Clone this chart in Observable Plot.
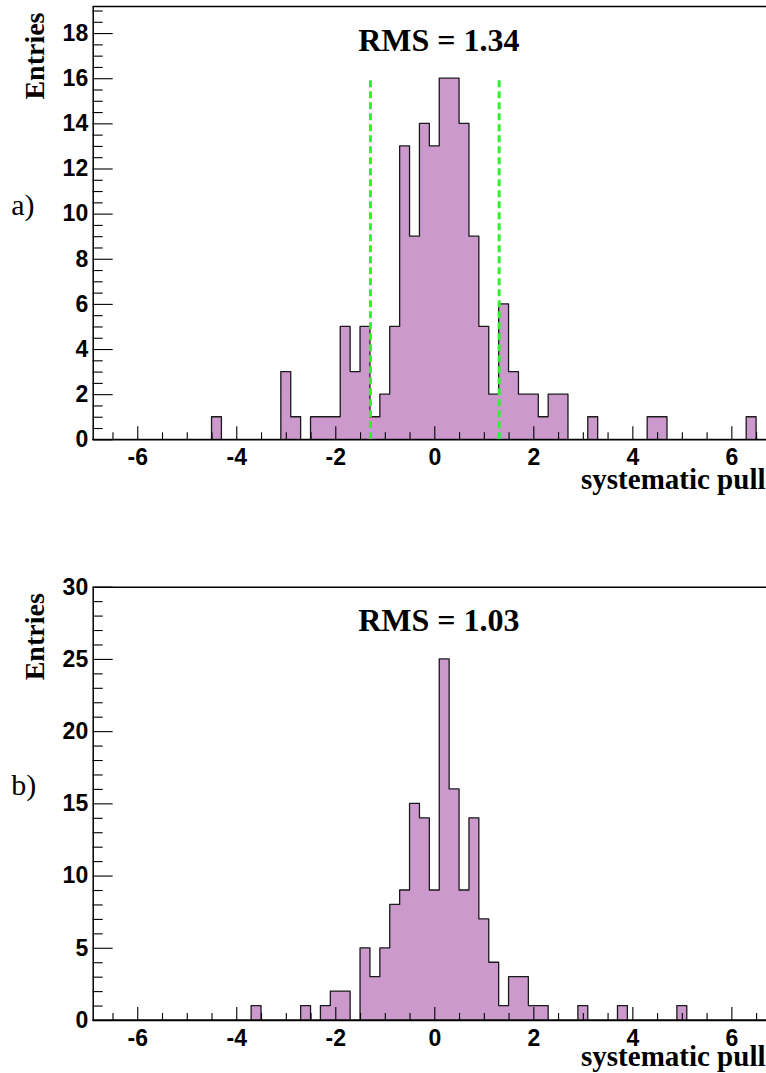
<!DOCTYPE html>
<html>
<head>
<meta charset="utf-8">
<script src="https://cdn.jsdelivr.net/npm/d3@7"></script>
<script src="https://cdn.jsdelivr.net/npm/@observablehq/plot@0.6"></script>
<style>
  html, body { margin: 0; padding: 0; background: #fff; }
  #wrap { width: 766px; height: 1073px; overflow: hidden; }
  #wrap svg { display: block; }
</style>
</head>
<body>
<div id="wrap"></div>
<script>
// ---- data (bin centers of non-empty bins, bin width 0.2) ----
const topCenters = [-4.4, -3.0, -2.8, -2.4, -2.2, -2.0, -1.8, -1.6, -1.4, -1.2, -1.0, -0.8, -0.6, -0.4, -0.2, 0.0, 0.2, 0.4, 0.6, 0.8, 1.0, 1.2, 1.4, 1.6, 1.8, 2.0, 2.2, 2.4, 2.6, 3.2, 4.4, 4.6, 6.4];
const topCounts  = [1, 3, 1, 1, 1, 1, 5, 3, 5, 1, 2, 5, 13, 9, 14, 13, 16, 16, 14, 9, 5, 2, 6, 3, 2, 2, 1, 2, 2, 1, 1, 1, 1];
const bottomCenters = [-3.6, -2.6, -2.2, -2.0, -1.8, -1.4, -1.2, -1.0, -0.8, -0.6, -0.4, -0.2, 0.0, 0.2, 0.4, 0.6, 0.8, 1.0, 1.2, 1.4, 1.6, 1.8, 2.0, 2.2, 3.0, 3.8, 5.0];
const bottomCounts  = [1, 1, 1, 2, 2, 5, 3, 5, 8, 9, 15, 14, 9, 25, 16, 9, 14, 7, 4, 1, 3, 3, 1, 1, 1, 1, 1];
const topRMS = "1.34";
const bottomRMS = "1.03";
const topLines = [-1.3, 1.3];      // green dashed lines
const topLineHeight = 16;
const xTickLabels = [-6, -4, -2, 0, 2, 4, 6];
const topYTickLabels = [0, 2, 4, 6, 8, 10, 12, 14, 16, 18];
const bottomYTickLabels = [0, 5, 10, 15, 20, 25, 30];
const xTitle = "systematic pull";
const yTitle = "Entries";

const binWidth = 0.2;
const histRange = [-6.9, 6.9];

function fmt(d) { return d < 0 ? "-" + (-d) : String(d); }

function panel(cfg) {
  const W = 766, mLeft = 92.7;
  const {centers, counts, yMax, yMinorStep, yMajor, rms, tag, tagDy, titleDy, lines, lineTop, H, mTop, mBottom} = cfg;
  const xDom = [histRange[0], 6.7];
  const pxX = (W - mLeft) / (xDom[1] - xDom[0]);
  const pxY = (H - mTop - mBottom) / yMax;

  const lookup = new Map(centers.map((c, i) => [Math.round(c * 10), counts[i]]));
  const nBins = Math.round((histRange[1] - histRange[0]) / binWidth);
  const pts = [];
  for (let i = 0; i < nBins; i++) {
    const lo = histRange[0] + binWidth * i;
    const key = Math.round((lo + binWidth / 2) * 10);
    pts.push({x: lo, y: lookup.get(key) ?? 0});
  }
  pts.push({x: histRange[1], y: 0});

  const xMinor = d3.range(-13, 14).map(k => k * 0.5).filter(v => !xTickLabels.includes(v) && v > xDom[0] && v < xDom[1]);
  const yMinor = d3.range(0, yMax + 1e-9, yMinorStep).filter(v => !yMajor.includes(v) && v > 0);

  const font = "'Liberation Sans', Arial, Helvetica, sans-serif";
  const serif = "'Liberation Serif', 'Times New Roman', Times, serif";

  const marks = [
    Plot.areaY(pts, {x: "x", y: "y", curve: "step-after", fill: "#cc99cc", stroke: "#1a1a1a", strokeWidth: 1.3})
  ];
  if (lines) {
    marks.push(Plot.ruleX(lines, {y1: 0, y2: lineTop, stroke: "#2ef22e", strokeWidth: 3, strokeDasharray: "7,4"}));
  }
  marks.push(
    Plot.ruleY([0, yMax], {stroke: "#000", strokeWidth: 1.5}),
    Plot.ruleX([xDom[0]], {stroke: "#000", strokeWidth: 1.5}),
    // y ticks (inside)
    Plot.ruleY(yMajor, {x1: xDom[0], x2: xDom[0] + 20 / pxX, stroke: "#000", strokeWidth: 1.1}),
    Plot.ruleY(yMinor, {x1: xDom[0], x2: xDom[0] + 10 / pxX, stroke: "#000", strokeWidth: 1.1}),
    // x ticks (inside)
    Plot.ruleX(xTickLabels, {y1: 0, y2: 13 / pxY, stroke: "#000", strokeWidth: 1.1}),
    Plot.ruleX(xMinor, {y1: 0, y2: 7 / pxY, stroke: "#000", strokeWidth: 1.1}),
    // tick labels
    Plot.text(yMajor, {y: d => d, text: fmt, frameAnchor: "left", textAnchor: "end", dx: -5,
      fontSize: 23, fontWeight: "bold", fontFamily: font, fill: "#000"}),
    Plot.text(xTickLabels, {x: d => d, text: fmt, frameAnchor: "bottom", lineAnchor: "top", dy: 9,
      fontSize: 23, fontWeight: "bold", fontFamily: font, fill: "#000"}),
    // titles
    Plot.text([`RMS = ${rms}`], {text: d => d, frameAnchor: "top", dx: 9, dy: 44, lineAnchor: "bottom",
      fontSize: 32, fontWeight: "bold", fontFamily: serif, fill: "#000"}),
    Plot.text([xTitle], {text: d => d, frameAnchor: "bottom-right", textAnchor: "end", lineAnchor: "bottom",
      dx: -1, dy: titleDy, fontSize: 29, fontWeight: "bold", fontFamily: serif, fill: "#000"}),
    Plot.text([yTitle], {text: d => d, frameAnchor: "top-left", rotate: -90, textAnchor: "end", lineAnchor: "middle",
      dx: -58, dy: 6, fontSize: 28, fontWeight: "bold", fontFamily: serif, fill: "#000"}),
    Plot.text([tag], {text: d => d, frameAnchor: "left", textAnchor: "start", lineAnchor: "middle",
      dx: -82, dy: tagDy, fontSize: 30, fontFamily: serif, fill: "#000"})
  );

  return Plot.plot({
    width: W, height: H,
    marginLeft: mLeft, marginRight: 0, marginTop: mTop, marginBottom: mBottom,
    x: {domain: xDom, axis: null},
    y: {domain: [0, yMax], axis: null},
    style: {background: "white", overflow: "visible"},
    marks
  });
}

const wrap = document.getElementById("wrap");
wrap.appendChild(panel({
  centers: topCenters, counts: topCounts, yMax: 19.2, yMinorStep: 0.5, yMajor: topYTickLabels,
  rms: topRMS, tag: "a)", tagDy: -18, titleDy: 49, lines: topLines, lineTop: topLineHeight,
  H: 540, mTop: 6, mBottom: 100.7
}));
wrap.appendChild(panel({
  centers: bottomCenters, counts: bottomCounts, yMax: 30, yMinorStep: 1, yMajor: bottomYTickLabels,
  rms: bottomRMS, tag: "b)", tagDy: -18, titleDy: 45, lines: null, lineTop: 0,
  H: 533, mTop: 46.7, mBottom: 53
}));
</script>
</body>
</html>
